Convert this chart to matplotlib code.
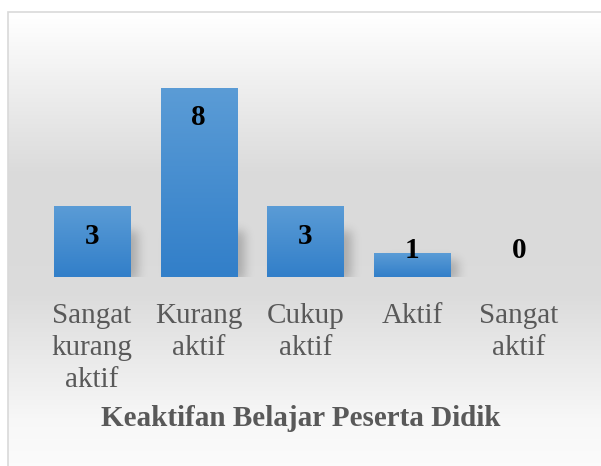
import numpy as np
import matplotlib
matplotlib.use('Agg')
from matplotlib import pyplot as plt
from matplotlib.patches import Rectangle

# data
kategori = ['Sangat\nkurang\naktif', 'Kurang\naktif', 'Cukup\naktif', 'Aktif', 'Sangat\naktif']
jumlah = [3, 8, 3, 1, 0]
judul = 'Keaktifan Belajar Peserta Didik'

plt.rcParams['font.family'] = ['Liberation Serif', 'DejaVu Serif']

W, H = 601, 466
fig = plt.figure(figsize=(W / 100, H / 100), dpi=100)

# chart area background (gradient white -> gray -> white)
bg = fig.add_axes([0, 0, 1, 1])
bg.set_axis_off()
rows = np.linspace(0, 1, 200)
shade = np.interp(rows, [0.0, 0.03, 0.36, 0.62, 0.9, 1.0], [1.0, 0.99, 0.855, 0.86, 0.97, 0.985])
img = np.repeat(shade[:, None], 2, axis=1)
x0 = 8 / W
y1 = 1 - 12 / H
bg.imshow(np.dstack([img, img, img]), extent=[x0, 1.0, 0.0, y1], aspect='auto', zorder=0)
bg.set_xlim(0, 1)
bg.set_ylim(0, 1)
bg.add_patch(Rectangle((x0, -0.01), 1.2, y1 + 0.01, fill=False, edgecolor='#d9d9d9', lw=1.2, zorder=2))

# plot axes
step = 106.75
left = 92 - step / 2
base = 277
unit = 23.67
ymax = 9
ax = fig.add_axes([left / W, (H - base) / H, 5 * step / W, ymax * unit / H])
ax.patch.set_alpha(0)
ax.set_xlim(-0.5, 4.5)
ax.set_ylim(0, ymax)
ax.set_axis_off()

x = np.arange(len(jumlah))
bars = ax.bar(x, jumlah, width=0.712, color='#4a8fd2', zorder=3)

# soft shadow layer (blurred, offset to lower right)
nx, ny = 540, 220
sx = np.linspace(-0.5, 4.5, nx)
sy = np.linspace(-0.6, ymax, ny)
mask = np.zeros((ny, nx))
for b in bars:
    h = b.get_height()
    if h <= 0:
        continue
    bx, bw = b.get_x(), b.get_width()
    inx = (sx >= bx + 0.07) & (sx <= bx + bw + 0.07)
    iny = (sy >= -0.15) & (sy <= min(h, 2.2) - 0.3)
    mask[np.ix_(iny, inx)] = 1.0
kern = np.exp(-0.5 * (np.arange(-15, 16) / 5.0) ** 2)
kern /= kern.sum()
blur = np.apply_along_axis(lambda r: np.convolve(r, kern, mode='same'), 1, mask)
blur = np.apply_along_axis(lambda c: np.convolve(c, kern, mode='same'), 0, blur)
shadow = np.zeros((ny, nx, 4))
shadow[..., 3] = blur * 0.22
ax.imshow(shadow, extent=[-0.5, 4.5, -0.6, ymax], origin='lower', aspect='auto', zorder=2)
ax.set_xlim(-0.5, 4.5)
ax.set_ylim(0, ymax)
ax.set_clip_on(False)

grad = np.linspace(0, 1, 100)[:, None]
top_c = np.array([91, 156, 214]) / 255
bot_c = np.array([50, 127, 201]) / 255
gimg = top_c * (1 - grad[:, :, None]) + bot_c * grad[:, :, None]
for b in bars:
    h = b.get_height()
    if h <= 0:
        continue
    bx = b.get_x()
    bw = b.get_width()
    im = ax.imshow(gimg, extent=[bx, bx + bw, 0, h], aspect='auto', zorder=4)
    im.set_clip_path(b)
ax.set_xlim(-0.5, 4.5)
ax.set_ylim(0, ymax)

for i, v in enumerate(jumlah):
    ylab = max(v - 1.28, 1.1)
    ax.text(i, ylab, str(v), ha='center', va='center', fontsize=21,
            fontweight='bold', color='black', zorder=6)

for i, lab in enumerate(kategori):
    ax.text(i, -1.1, lab, ha='center', va='top', fontsize=21, color='#595959',
            linespacing=1.3)

fig.text(0.5, (H - 419) / H, judul, ha='center', va='center', fontsize=21,
         fontweight='bold', color='#595959')

plt.savefig('out.png', dpi=100)
